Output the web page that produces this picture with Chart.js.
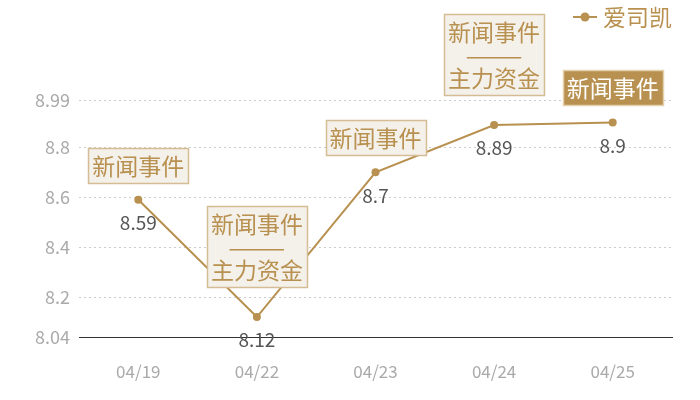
<!DOCTYPE html>
<html>
<head>
<meta charset="utf-8">
<script src="https://cdn.jsdelivr.net/npm/chart.js@4.4.0/dist/chart.umd.min.js"></script>
<style>
  html, body { margin: 0; padding: 0; background: #fff; }
  #wrap { width: 700px; height: 400px; }
</style>
</head>
<body>
<div id="wrap"><canvas id="c"></canvas></div>
<script>
// Data
const dates = ['04/19', '04/22', '04/23', '04/24', '04/25'];
const prices = [8.59, 8.12, 8.7, 8.89, 8.9];
const yTicks = [8.04, 8.2, 8.4, 8.6, 8.8, 8.99];
const seriesName = '爱司凯';
const eventLabels = [
    ['新闻事件'],
    ['新闻事件', '———', '主力资金'],
    ['新闻事件'],
    ['新闻事件', '———', '主力资金'],
    ['新闻事件']
];
const highlighted = [false, false, false, false, true];

// Styles
const GOLD = '#b8904f';
const FONT = '"Noto Sans CJK SC", "Noto Sans", sans-serif';

// Event boxes, value labels and legend
const overlayPlugin = {
    id: 'overlay',
    afterDatasetsDraw(chart) {
        const ctx = chart.ctx;
        const meta = chart.getDatasetMeta(0);
        ctx.save();

        // value labels under points
        ctx.font = '19px ' + FONT;
        ctx.fillStyle = '#555';
        ctx.textAlign = 'center';
        ctx.textBaseline = 'middle';
        meta.data.forEach((pt, i) => {
            ctx.fillText(String(prices[i]), pt.x, pt.y + 23);
        });

        // event boxes above points
        ctx.font = '23px ' + FONT;
        meta.data.forEach((pt, i) => {
            const lines = eventLabels[i];
            const lineH = 23;
            const padY = 6;
            const w = 100;
            const h = lines.length * lineH + padY * 2;
            const gap = lines.length > 1 ? 30 : 17;
            const x0 = Math.round(pt.x - w / 2) + 0.5;
            const y0 = Math.round(pt.y - gap - h) + 0.5;
            const hi = highlighted[i];
            ctx.fillStyle = hi ? GOLD : '#f4f0ea';
            ctx.fillRect(x0, y0, w, h);
            ctx.strokeStyle = hi ? '#e3d2ad' : '#d4bc94';
            ctx.lineWidth = 1.5;
            ctx.strokeRect(x0, y0, w, h);
            ctx.fillStyle = hi ? '#fff' : GOLD;
            lines.forEach((t, k) => {
                ctx.fillText(t, pt.x, y0 + padY + lineH * k + lineH / 2);
            });
        });

        // legend
        const ly = 17;
        ctx.strokeStyle = GOLD;
        ctx.lineWidth = 2;
        ctx.beginPath();
        ctx.moveTo(573, ly);
        ctx.lineTo(597, ly);
        ctx.stroke();
        ctx.fillStyle = GOLD;
        ctx.beginPath();
        ctx.arc(585, ly, 4.5, 0, Math.PI * 2);
        ctx.fill();
        ctx.textAlign = 'left';
        ctx.font = '23px ' + FONT;
        ctx.fillText(seriesName, 603, ly);

        ctx.restore();
    }
};

new Chart(document.getElementById('c'), {
    type: 'line',
    data: {
        labels: dates,
        datasets: [{
            label: seriesName,
            data: prices,
            borderColor: GOLD,
            backgroundColor: GOLD,
            borderWidth: 2,
            pointRadius: 4,
            pointBackgroundColor: GOLD,
            pointBorderWidth: 0,
            tension: 0
        }]
    },
    options: {
        responsive: true,
        maintainAspectRatio: false,
        animation: false,
        layout: { padding: { top: 100, right: 28, left: 0, bottom: 0 } },
        plugins: {
            legend: { display: false },
            tooltip: { enabled: false }
        },
        scales: {
            x: {
                offset: true,
                grid: { display: false, drawTicks: false },
                border: { display: true, color: '#333', width: 1 },
                ticks: { color: '#aaa', padding: 24, font: { size: 17, family: FONT } },
                afterFit: s => { s.height = 63; }
            },
            y: {
                min: 8.04,
                max: 8.99,
                afterBuildTicks: s => { s.ticks = yTicks.map(v => ({ value: v })); },
                grid: {
                    drawTicks: false,
                    color: c => c.tick && c.tick.value === 8.04 ? 'rgba(0,0,0,0)' : '#ccc'
                },
                border: { display: false, dash: [2, 3] },
                ticks: {
                    color: '#aaa',
                    padding: 9,
                    font: { size: 18, family: FONT },
                    callback: v => String(v)
                },
                afterFit: s => { s.width = 79; }
            }
        }
    },
    plugins: [overlayPlugin]
});
</script>
</body>
</html>
